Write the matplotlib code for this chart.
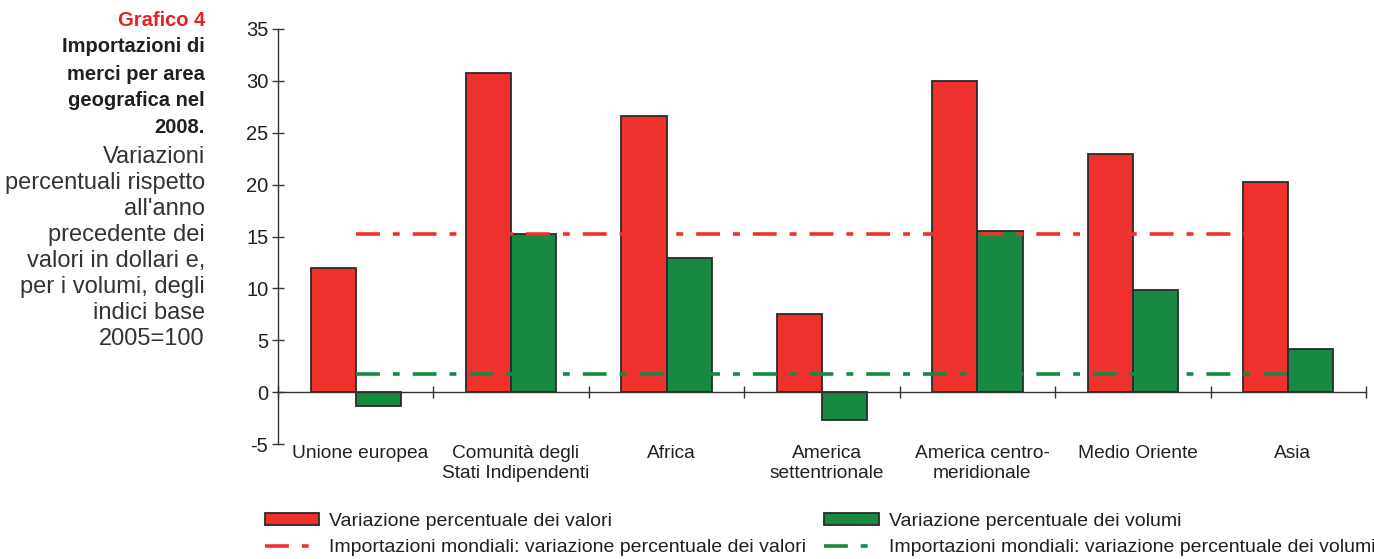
import matplotlib
matplotlib.use("Agg")
import matplotlib.pyplot as plt
import numpy as np
from matplotlib.patches import Patch
from matplotlib.lines import Line2D

plt.rcParams["font.family"] = ["Liberation Sans", "DejaVu Sans"]
plt.rcParams["axes.unicode_minus"] = False

# --- data -------------------------------------------------------------
areas = ["Unione europea", "Comunità degli\nStati Indipendenti", "Africa",
         "America\nsettentrionale", "America centro-\nmeridionale",
         "Medio Oriente", "Asia"]
valori = [12.0, 30.8, 26.6, 7.5, 30.0, 23.0, 20.3]
volumi = [-1.3, 15.2, 12.9, -2.7, 15.5, 9.8, 4.2]
mondo_valori = 15.2
mondo_volumi = 1.7

title_bold = ["Importazioni di", "merci per area", "geografica nel", "2008."]
title_reg = ["Variazioni", "percentuali rispetto", "all'anno", "precedente dei",
             "valori in dollari e,", "per i volumi, degli", "indici base",
             "2005=100"]

RED = "#EE312D"
GREEN = "#188942"
EDGE = "#2b2b2b"
TEXT = "#231F20"

fig = plt.figure(figsize=(13.74, 5.59), dpi=100)
ax = fig.add_axes([278 / 1374, 1 - 444 / 559, 1088 / 1374, 415 / 559])

n = len(areas)
centers = np.arange(n) + 0.5
w = 0.29
ax.bar(centers - w / 2, valori, w, color=RED, edgecolor=EDGE, linewidth=1.3, zorder=2)
ax.bar(centers + w / 2, volumi, w, color=GREEN, edgecolor=EDGE, linewidth=1.3, zorder=2)

dash = (0, (6.6, 3.6, 1.9, 3.6))
LW = 2.6
ax.plot([centers[0], centers[-1] - 0.2], [mondo_valori] * 2, color=RED,
        lw=LW, linestyle=dash, zorder=3)
ax.plot([centers[0], centers[-1]], [mondo_volumi] * 2, color=GREEN,
        lw=LW, linestyle=dash, zorder=3)

ax.set_xlim(0, n)
ax.set_ylim(-5, 35)
ax.set_yticks(np.arange(-5, 36, 5))
ax.set_xticks(np.arange(0, n + 1))
ax.set_xticklabels([])
for s in ("top", "right"):
    ax.spines[s].set_visible(False)
ax.spines["bottom"].set_position(("data", 0))
ax.spines["bottom"].set_bounds(0, n)
for s in ("left", "bottom"):
    ax.spines[s].set_color("#333333")
    ax.spines[s].set_linewidth(1.0)
ax.tick_params(axis="both", direction="inout", length=8, width=1.0,
               color="#333333", labelsize=14.5, labelcolor=TEXT)
ax.tick_params(axis="y", pad=3)

for x, lab in zip(centers, areas):
    ax.text(x + 0.03, -5.1, lab, ha="center", va="top", fontsize=13.8,
            color=TEXT, linespacing=1.25)

# --- left title block --------------------------------------------------
xr = 205 / 1374
fig.text(xr, 1 - 20 / 559, "Grafico 4", ha="right", va="center",
         fontsize=14.5, fontweight="bold", color="#E8202A")
y = 47
for line in title_bold:
    fig.text(xr, 1 - y / 559, line, ha="right", va="center", fontsize=14.5,
             fontweight="bold", color=TEXT)
    y += 27
y = 157
for line in title_reg:
    fig.text(xr, 1 - y / 559, line, ha="right", va="center", fontsize=17,
             color="#333333")
    y += 26

# --- legend -----------------------------------------------------------
handles = [
    Patch(facecolor=RED, edgecolor=EDGE, linewidth=1.3),
    Line2D([], [], color=RED, lw=LW, linestyle=dash),
    Patch(facecolor=GREEN, edgecolor=EDGE, linewidth=1.3),
    Line2D([], [], color=GREEN, lw=LW, linestyle=dash),
]
labels = ["Variazione percentuale dei valori",
          "Importazioni mondiali: variazione percentuale dei valori",
          "Variazione percentuale dei volumi",
          "Importazioni mondiali: variazione percentuale dei volumi"]
fig.legend(handles, labels, ncol=2, loc="upper left",
           bbox_to_anchor=(251 / 1374, 1 - 499 / 559), frameon=False,
           fontsize=14.0, handlelength=2.8, handleheight=0.6,
           handletextpad=0.5, columnspacing=0.95, labelspacing=0.5,
           labelcolor=TEXT, borderpad=0.2)

fig.savefig("out.png", dpi=100)
